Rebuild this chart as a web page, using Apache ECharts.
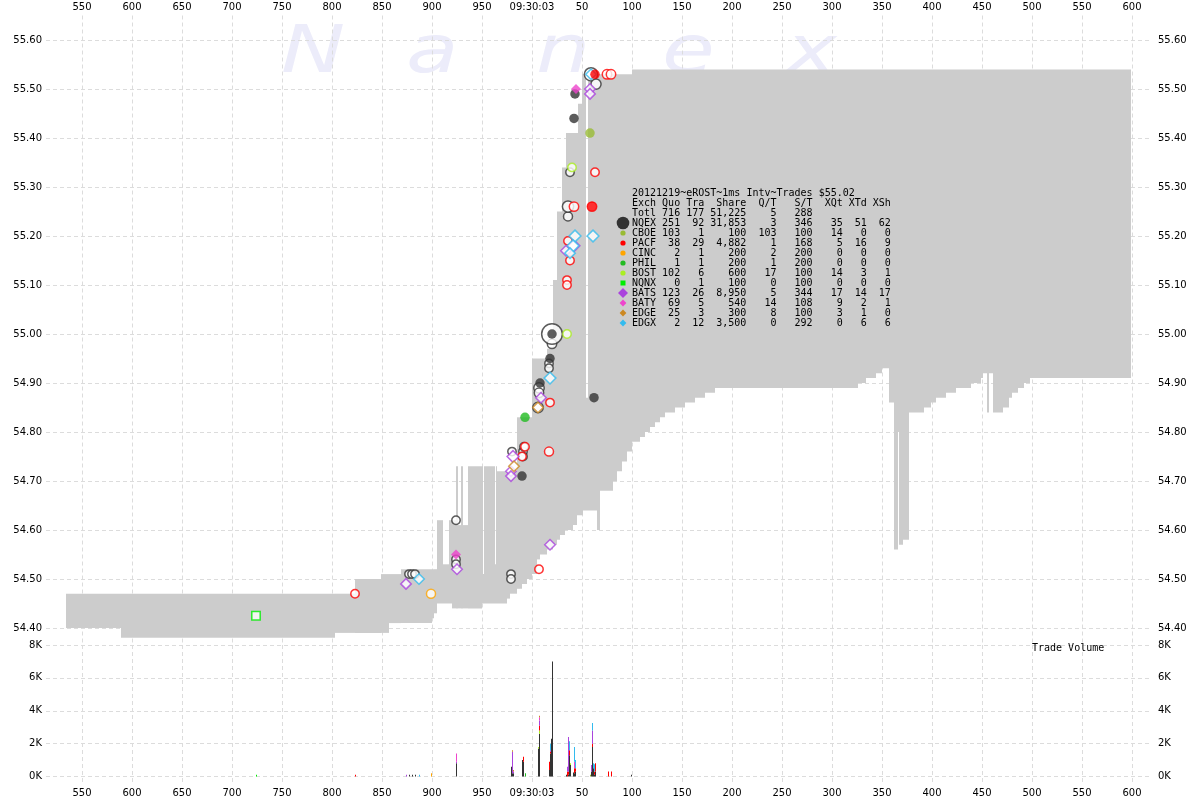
<!DOCTYPE html>
<html><head><meta charset="utf-8">
<script src="https://cdn.jsdelivr.net/npm/echarts@6/dist/echarts.min.js"></script>
<style>html,body{margin:0;padding:0;background:#fff}#c{width:1200px;height:800px}</style>
</head><body><div id="c"></div>
<script>
// ---- time axis: milliseconds relative to 09:30:03.000 ----
const timeTicks = [-450,-400,-350,-300,-250,-200,-150,-100,-50,0,50,100,150,200,250,300,350,400,450,500,550,600];
const priceTicks = [54.4,54.5,54.6,54.7,54.8,54.9,55.0,55.1,55.2,55.3,55.4,55.5,55.6];
const volTicks = [0,2000,4000,6000,8000];

// ---- NBBO band (step starts, bid, ask) ----
const bandT = [-466,-411,-197,-177,-151,-143,-131,-100,-98,-95,-89,-83,-80,-76,-74,-71,-69,-64,-55,-50,-49,-48,-37,-36,-35,-25,-22,-15,-12,-10,-5,0,5,8,15,21,25,28,30,33,34,41,45,46,50,51,54,56,65,68,81,85,90,95,100,108,113,118,123,128,133,143,153,163,173,183,326,334,344,350,357,362,366,367,371,377,392,399,404,414,424,439,449,451,455,457,461,471,477,480,486,492,498];
const bandBid = [54.40,54.38,54.39,54.39,54.39,54.41,54.41,54.42,54.43,54.45,54.45,54.45,54.44,54.44,54.44,54.44,54.44,54.44,54.44,54.45,54.45,54.45,54.45,54.45,54.45,54.46,54.47,54.48,54.48,54.49,54.50,54.51,54.54,54.55,54.56,54.57,54.58,54.59,54.59,54.60,54.60,54.61,54.63,54.63,54.63,54.64,54.64,54.64,54.60,54.68,54.70,54.72,54.74,54.76,54.78,54.79,54.80,54.81,54.82,54.83,54.84,54.85,54.86,54.87,54.88,54.89,54.90,54.91,54.92,54.93,54.86,54.56,54.80,54.57,54.58,54.84,54.85,54.86,54.87,54.88,54.89,54.90,54.91,54.92,54.84,54.92,54.84,54.85,54.87,54.88,54.89,54.90,54.91];
const bandAsk = [54.47,54.47,54.47,54.50,54.51,54.51,54.52,54.52,54.52,54.62,54.53,54.62,54.62,54.73,54.61,54.73,54.61,54.73,54.73,54.73,54.51,54.73,54.53,54.73,54.72,54.72,54.72,54.83,54.83,54.83,54.83,54.95,54.95,54.95,54.97,55.11,55.25,55.25,55.34,55.34,55.41,55.41,55.41,55.47,55.53,55.53,54.87,55.53,55.53,55.53,55.53,55.53,55.53,55.53,55.54,55.54,55.54,55.54,55.54,55.54,55.54,55.54,55.54,55.54,55.54,55.54,55.54,55.54,55.54,55.54,55.54,55.54,55.54,55.54,55.54,55.54,55.54,55.54,55.54,55.54,55.54,55.54,55.54,55.54,55.54,55.54,55.54,55.54,55.54,55.54,55.54,55.54,55.54];
const bandEnd = 599;

// ---- trades in price panel: [ms, price, shares] ----
const nqexOpen = [[-123,54.51,100],[-120,54.51,100],[-117,54.51,100],[-76,54.62,100],[-76,54.54,100],[-76,54.53,100],[-21,54.51,100],[-21,54.50,100],[-20,54.76,100],[-9,54.76,100],[-9,54.75,100],[-8,54.77,100],[6,54.85,600],[7,54.89,600],[7,54.88,300],[17,54.94,100],[17,54.93,100],[20,54.98,300],[20,55.00,7000],[36,55.24,200],[36,55.26,900],[38,55.33,100],[59,55.53,2000],[64,55.51,500]];
const nqexFill = [[-10,54.71,300],[8,54.90,300],[18,54.95,300],[20,55.00,100],[62,54.87,100],[42,55.44,300],[43,55.49,100]];
const pacfOpen = [[-177,54.47,100],[7,54.52,100],[-7,54.77,100],[-10,54.75,100],[17,54.76,200],[18,54.86,100],[35,55.11,100],[35,55.10,100],[38,55.15,100],[36,55.19,100],[42,55.26,300],[60,55.26,300],[63,55.33,100],[75,55.53,300],[79,55.53,300]];
const pacfFill = [[63,55.53,200],[60,55.26,100]];
const cboeFill = [[58,55.41,100]];
const bostOpen = [[35,55.00,100],[40,55.34,100]];
const cincOpen = [[-101,54.47,200]];
const philFill = [[-7,54.83,200]];
const nqnxOpen = [[-276,54.425,100]];
const batsOpen = [[-126,54.49,100],[-75,54.52,100],[-19,54.75,300],[-21,54.72,100],[-21,54.71,100],[9,54.87,100],[18,54.57,100],[34,55.17,100],[42,55.18,300],[58,55.50,100],[58,55.49,100]];
const edgeOpen = [[-18,54.73,100],[6,54.85,100]];
const edgxOpen = [[-113,54.50,100],[18,54.91,300],[43,55.20,300],[41,55.18,300],[38,55.165,100],[61,55.20,300],[59,55.53,100]];
const batyFill = [[-76,54.55,200],[44,55.50,200]];

// ---- trade volume per ms: [ms, shares] ----
const nqexVol = [[-123,100],[-120,100],[-117,100],[-76,800],[-21,600],[-20,200],[-19,200],[-10,1000],[-9,900],[6,1700],[7,2600],[17,400],[18,1400],[19,2300],[20,7000],[34,100],[36,100],[37,1300],[38,700],[41,250],[42,200],[43,300],[59,300],[60,1800],[61,500],[62,100],[63,300],[99,100]];
const philVol = [[-7,200]];
const cboeVol = [[58,100]];
const bostVol = [[6,100],[7,200],[38,100]];
const nqnxVol = [[-276,100]];
const cincVol = [[-101,200]];
const pacfVol = [[-177,100],[-9,300],[7,300],[17,500],[18,100],[35,300],[36,200],[37,300],[42,300],[43,200],[60,200],[62,200],[63,500],[76,300],[79,300]];
const batsVol = [[-126,100],[-76,100],[-20,1300],[-19,100],[7,300],[18,100],[35,300],[36,2100],[59,400],[60,800]];
const batyVol = [[-76,500],[7,200],[42,400]];
const edgeVol = [[-20,100],[-19,100],[7,100]];
const edgxVol = [[-113,100],[18,400],[37,550],[42,900],[43,500],[60,450],[61,300],[62,450]];

// ---- exchange summary table ----
const legEx    = ['Totl','NQEX','CBOE','PACF','CINC','PHIL','BOST','NQNX','BATS','BATY','EDGE','EDGX'];
const legQuo   = [716,251,103,38,2,1,102,0,123,69,25,2];
const legTra   = [177,92,1,29,1,1,6,1,26,5,3,12];
const legShare = [51225,31853,100,4882,200,200,600,100,8950,540,300,3500];
const legQT    = [5,3,103,1,2,1,17,0,5,14,8,0];
const legST    = [288,346,100,168,200,200,100,100,344,108,100,292];
const legXQt   = ['',35,14,5,0,0,14,0,17,9,3,0];
const legXTd   = ['',51,0,16,0,0,3,0,14,2,1,6];
const legXSh   = ['',62,0,9,0,0,1,0,17,1,0,6];
const chartTitle = '20121219~eROST~1ms Intv~Trades $55.02';

// ---- styles ----
const C = {NQEX:'#333333',CBOE:'#99bb33',PACF:'#ff0000',CINC:'#ffa500',PHIL:'#22bb22',BOST:'#aaee22',NQNX:'#00ee00',BATS:'#aa44dd',BATY:'#ee44cc',EDGE:'#cc8822',EDGX:'#33bbee'};
const GRID = '#dcdcdc';
const FONT = '"DejaVu Sans"';
const MONO = '"DejaVu Sans Mono"';

function sizeOf(sh){ return 7 + 1.4*Math.sqrt(sh/100); }
function sc(name, data, color, symbol, filled, z){
  return {type:'scatter', name, xAxisIndex:0, yAxisIndex:0, data, symbol,
    symbolSize: v => filled ? (symbol==='diamond'?10:9.5) : (symbol==='diamond'?1.25:1)*sizeOf(v[2]) + (v[2]>=5000?2:0),
    itemStyle: filled ? {color, borderWidth:0} : {color:'#ffffff', borderColor:color, borderWidth: 1.5},
    z: z||5, silent:true, animation:false};
}

const bandItems = bandT.map((t,i)=>[t, i+1<bandT.length ? bandT[i+1] : bandEnd, bandBid[i], bandAsk[i]]);

const volOrder = [['NQEX',nqexVol],['PHIL',philVol],['CBOE',cboeVol],['BOST',bostVol],['NQNX',nqnxVol],['CINC',cincVol],['PACF',pacfVol],['BATS',batsVol],['BATY',batyVol],['EDGE',edgeVol],['EDGX',edgxVol]];
const runTot = {};
const volSeries = volOrder.map(([ex, arr]) => {
  const items = arr.map(([t,v]) => { const b = runTot[t]||0; runTot[t] = b+v; return [t, b, b+v]; });
  return {type:'custom', name: ex+' vol', xAxisIndex:1, yAxisIndex:2, data: items, silent:true, animation:false,
    encode:{x:0, y:[1,2]},
    renderItem(params, api){
      const p0 = api.coord([api.value(0), api.value(2)]);
      const p1 = api.coord([api.value(0)+1, api.value(1)]);
      return {type:'rect', shape:{x:p0[0], y:p0[1], width:p1[0]-p0[0], height:p1[1]-p0[1]}, style:{fill:C[ex]}};
    }};
});

function xLab(v){ return v===0 ? '09:30:03' : (v<0 ? String(1000+v) : String(v)); }
const xBase = {type:'value', min:-486, max:619, axisLine:{show:false}, axisTick:{show:false, customValues: timeTicks},
  axisLabel:{customValues: timeTicks, formatter:xLab, fontSize:10, fontFamily:FONT, color:'#000', margin:3},
  splitLine:{show:true, lineStyle:{color:GRID, type:[4,3], width:1}}};
const yLabPrice = {customValues: priceTicks, formatter: v=>v.toFixed(2), fontSize:10, fontFamily:FONT, color:'#000'};
const yLabVol = {customValues: volTicks, formatter: v=>(v/1000)+'K', fontSize:10, fontFamily:FONT, color:'#000'};

// legend table text
function pad(s,n){ s=String(s); return s.length>=n? s : ' '.repeat(n-s.length)+s; }
function fmt(n){ return typeof n==='number' ? n.toLocaleString('en-US') : n; }
const lines = [chartTitle, 'Exch'+pad('Quo',4)+pad('Tra',4)+pad('Share',7)+pad('Q/T',5)+pad('S/T',6)+pad('XQt',5)+pad('XTd',4)+pad('XSh',4)];
legEx.forEach((e,i)=>{
  lines.push(e+pad(legQuo[i],4)+pad(legTra[i],4)+pad(fmt(legShare[i]),7)+pad(legQT[i],5)+pad(legST[i],6)+pad(legXQt[i],5)+pad(legXTd[i],4)+pad(legXSh[i],4));
});
const LX = 632, LY0 = 188, LH = 10, MX = 623;
function rowY(i){ return LY0 + LH*(i+2) + 5; }
function diamond(cx, cy, h, color){ return {type:'polygon', shape:{points:[[cx,cy-h],[cx+h,cy],[cx,cy+h],[cx-h,cy]]}, style:{fill:color}, z:101}; }
function dot(cx, cy, r, color){ return {type:'circle', shape:{cx, cy, r}, style:{fill:color}, z:101}; }
const legendMarks = [
  dot(MX, rowY(1), 6.3, C.NQEX), dot(MX, rowY(2), 2.6, C.CBOE), dot(MX, rowY(3), 2.6, C.PACF),
  dot(MX, rowY(4), 2.6, C.CINC), dot(MX, rowY(5), 2.6, C.PHIL), dot(MX, rowY(6), 2.6, C.BOST),
  {type:'rect', shape:{x:MX-2.5, y:rowY(7)-2.5, width:5, height:5}, style:{fill:C.NQNX}, z:101},
  diamond(MX, rowY(8), 5, C.BATS), diamond(MX, rowY(9), 3.4, C.BATY), diamond(MX, rowY(10), 3.4, C.EDGE), diamond(MX, rowY(11), 3.4, C.EDGX)
];
const wm = [['N',281],['a',406],['n',536],['e',662],['x',786]].map(([ch,x]) =>
  ({type:'text', x, y:22, scaleX:1.3, z:-1, silent:true, style:{text:ch, font:'italic 66px '+FONT, fill:'#ececfa'}}));

const chart = echarts.init(document.getElementById('c'), null, {renderer:'canvas'});
chart.setOption({
  animation:false,
  backgroundColor:'#ffffff',
  grid:[{left:46, width:1105, top:15.5, height:627.2}, {left:46, width:1105, top:645, height:140}],
  xAxis:[Object.assign({}, xBase, {gridIndex:0, position:'top'}), Object.assign({}, xBase, {gridIndex:1, position:'bottom'})],
  yAxis:[
    {type:'value', gridIndex:0, min:54.37, max:55.65, position:'left', axisLine:{show:false}, axisTick:{show:false, customValues: priceTicks}, axisLabel:Object.assign({margin:4}, yLabPrice), splitLine:{show:true, lineStyle:{color:GRID, type:[4,3]}}},
    {type:'value', gridIndex:0, min:54.37, max:55.65, position:'right', axisLine:{show:false}, axisTick:{show:false, customValues: priceTicks}, axisLabel:Object.assign({margin:7}, yLabPrice), splitLine:{show:false}},
    {type:'value', gridIndex:1, min:-517, max:8000, position:'left', axisLine:{show:false}, axisTick:{show:false, customValues: volTicks}, axisLabel:Object.assign({margin:4}, yLabVol), splitLine:{show:true, lineStyle:{color:GRID, type:[4,3]}}},
    {type:'value', gridIndex:1, min:-517, max:8000, position:'right', axisLine:{show:false}, axisTick:{show:false, customValues: volTicks}, axisLabel:Object.assign({margin:7}, yLabVol), splitLine:{show:false}}
  ],
  graphic:{elements:[...wm,
    {type:'text', x:LX, y:LY0, z:100, silent:true, style:{text:lines.join('\n'), font:'10px '+MONO, fill:'#000', lineHeight:LH}},
    ...legendMarks,
    {type:'text', x:1032, y:643, z:100, silent:true, style:{text:'Trade Volume', font:'10px '+MONO, fill:'#000'}}
  ]},
  series:[
    {type:'custom', name:'NBBO', xAxisIndex:0, yAxisIndex:0, data:bandItems, silent:true, z:1, encode:{x:[0,1], y:[2,3]},
      renderItem(params, api){
        const p0 = api.coord([api.value(0), api.value(3)]);
        const p1 = api.coord([api.value(1), api.value(2)]);
        return {type:'rect', shape:{x:p0[0], y:p0[1], width:p1[0]-p0[0], height:p1[1]-p0[1]}, style:{fill:'#cccccc'}};
      }},
    sc('NQEX', nqexOpen, C.NQEX, 'circle', false, 5),
    sc('PACF', pacfOpen, C.PACF, 'circle', false, 6),
    sc('BOST', bostOpen, C.BOST, 'circle', false, 6),
    sc('CINC', cincOpen, C.CINC, 'circle', false, 6),
    sc('NQNX', nqnxOpen, C.NQNX, 'rect', false, 6),
    sc('BATS', batsOpen, C.BATS, 'diamond', false, 6),
    sc('EDGE', edgeOpen, C.EDGE, 'diamond', false, 7),
    sc('EDGX', edgxOpen, C.EDGX, 'diamond', false, 7),
    sc('NQEX ISO', nqexFill, C.NQEX, 'circle', true, 8),
    sc('PACF ISO', pacfFill, C.PACF, 'circle', true, 8),
    sc('CBOE ISO', cboeFill, C.CBOE, 'circle', true, 8),
    sc('PHIL ISO', philFill, C.PHIL, 'circle', true, 8),
    sc('BATY ISO', batyFill, C.BATY, 'diamond', true, 8),
    ...volSeries
  ]
});
</script>
</body></html>
